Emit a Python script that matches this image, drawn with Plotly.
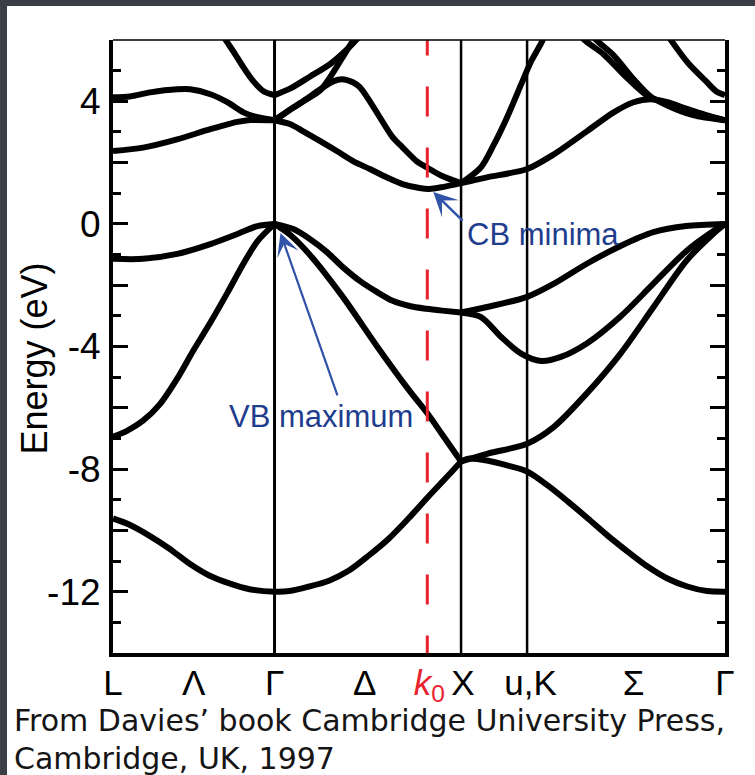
import plotly.graph_objects as go

# ---------------- data ----------------
# k-path positions (units of 2*pi/a): L, Gamma, X, U/K, Gamma
K_SYM = [0.0, 0.866, 1.866, 2.220, 3.281]
K0 = 1.685  # conduction-band minimum position

X_TICK_K = [0.0, 0.433, 0.866, 1.350, 1.696, 1.876, 2.239, 2.791, 3.281]
X_TICK_TEXT = ["L", "Λ", "Γ", "Δ",
               "<span style='color:#e8232e'><i>k</i><sub>0</sub></span>",
               "X", "u,K", "Σ", "Γ"]

Y_MAJOR = [-14, -12, -10, -8, -6, -4, -2, 0, 2, 4, 6]
Y_MAJOR_TEXT = ["", "-12", "", "-8", "", "-4", "", "0", "", "4", ""]
Y_MINOR = [-13, -11, -9, -7, -5, -3, -1, 1, 3, 5]

# conduction bands
cb1_k = [0, 0.091, 0.199, 0.344, 0.414, 0.522, 0.613, 0.699, 0.775, 0.866]
cb1_e = [4.13, 4.16, 4.29, 4.39, 4.39, 4.23, 3.97, 3.64, 3.48, 3.38]
cb2_k = [0, 0.161, 0.344, 0.522, 0.667, 0.737, 0.866]
cb2_e = [2.38, 2.49, 2.76, 3.09, 3.33, 3.39, 3.38]
cb3_k = [0.565, 0.602, 0.645, 0.699, 0.753, 0.807, 0.866]
cb3_e = [6.38, 6.02, 5.63, 5.11, 4.65, 4.33, 4.20]
cb4_k = [0.866, 0.951, 1.057, 1.163, 1.254, 1.307, 1.330]
cb4_e = [4.20, 4.42, 4.81, 5.21, 5.69, 6.02, 6.20]
cb5_k = [0.866, 0.935, 1.020, 1.111, 1.180, 1.228, 1.286, 1.323, 1.377, 1.430, 1.499, 1.552, 1.627, 1.680, 1.765, 1.866]
cb5_e = [3.38, 3.67, 4.00, 4.39, 4.65, 4.72, 4.62, 4.46, 4.00, 3.48, 2.83, 2.50, 2.05, 1.85, 1.56, 1.33]
cb6_k = [0.866, 0.935, 1.020, 1.111, 1.163, 1.217, 1.270, 1.291, 1.312]
cb6_e = [3.38, 3.67, 4.00, 4.36, 4.78, 5.30, 5.82, 6.02, 6.28]
cb7_k = [0.866, 0.951, 1.020, 1.111, 1.202, 1.287, 1.377, 1.467, 1.552, 1.643, 1.696, 1.765, 1.866]
cb7_e = [3.38, 3.25, 3.02, 2.70, 2.37, 2.05, 1.79, 1.52, 1.30, 1.17, 1.14, 1.20, 1.33]
cb8_k = [1.866, 1.973, 2.043, 2.113, 2.188, 2.241, 2.300, 2.321]
cb8_e = [1.33, 1.85, 2.60, 3.48, 4.55, 5.30, 5.95, 6.28]
cb9_k = [1.866, 2.005, 2.220, 2.364, 2.540, 2.684, 2.791, 2.881, 2.967, 3.073, 3.180, 3.281]
cb9_e = [1.33, 1.52, 1.79, 2.27, 3.02, 3.64, 3.97, 4.07, 3.98, 3.76, 3.55, 3.38]
cb10_k = [2.486, 2.524, 2.631, 2.753, 2.860, 2.967, 3.084, 3.281]
cb10_e = [6.34, 6.02, 5.53, 4.78, 4.20, 3.93, 3.67, 3.38]
cb11_k = [2.550, 2.588, 2.684, 2.791, 2.881, 2.977, 3.110, 3.281]
cb11_e = [6.34, 6.02, 5.50, 4.72, 4.16, 3.85, 3.55, 3.38]
cb12_k = [2.945, 2.988, 3.084, 3.180, 3.233, 3.281]
cb12_e = [6.41, 6.02, 5.24, 4.65, 4.33, 4.20]

# valence bands
vb1_k = [0, 0.161, 0.344, 0.522, 0.667, 0.775, 0.866]
vb1_e = [-1.14, -1.14, -0.98, -0.66, -0.33, -0.07, 0]
vb2_k = [0, 0.075, 0.161, 0.253, 0.344, 0.430, 0.522, 0.613, 0.699, 0.775, 0.866]
vb2_e = [-6.94, -6.75, -6.42, -5.87, -5.05, -4.14, -3.22, -2.25, -1.30, -0.56, 0]
vb3_k = [0.866, 0.967, 1.057, 1.147, 1.232, 1.323, 1.414, 1.499, 1.589, 1.680, 1.765, 1.866]
vb3_e = [0, -0.17, -0.50, -0.92, -1.41, -1.86, -2.22, -2.51, -2.68, -2.77, -2.83, -2.89]
vb4_k = [0.866, 0.951, 1.057, 1.232, 1.414, 1.589, 1.685, 1.765, 1.866]
vb4_e = [0, -0.36, -1.02, -2.38, -3.98, -5.44, -6.18, -6.87, -7.75]
vb5_k = [1.866, 2.005, 2.220, 2.364, 2.540, 2.721, 2.897, 3.073, 3.281]
vb5_e = [-2.89, -2.71, -2.38, -1.95, -1.30, -0.72, -0.27, -0.07, 0]
vb6_k = [1.866, 1.973, 2.081, 2.188, 2.295, 2.401, 2.540, 2.721, 2.897, 3.073, 3.217, 3.281]
vb6_e = [-2.89, -3.04, -3.69, -4.23, -4.47, -4.34, -3.90, -3.02, -1.95, -0.89, -0.24, 0]
vb7_k = [1.866, 2.005, 2.220, 2.364, 2.540, 2.721, 2.897, 3.073, 3.217, 3.281]
vb7_e = [-7.75, -7.50, -7.17, -6.62, -5.53, -4.23, -2.72, -1.21, -0.33, 0]
vb8_k = [1.866, 1.904, 2.011, 2.118, 2.220, 2.332, 2.439, 2.546, 2.652, 2.759, 2.866, 2.972, 3.079, 3.185, 3.281]
vb8_e = [-7.75, -7.66, -7.73, -7.89, -8.08, -8.54, -9.06, -9.61, -10.17, -10.69, -11.18, -11.57, -11.83, -11.98, -12.0]
vb9_k = [0, 0.086, 0.194, 0.301, 0.409, 0.516, 0.624, 0.732, 0.866, 0.946, 1.052, 1.158, 1.265, 1.371, 1.478, 1.584, 1.690, 1.797, 1.866]
vb9_e = [-9.61, -9.81, -10.17, -10.59, -11.08, -11.47, -11.73, -11.92, -12.0, -11.98, -11.83, -11.64, -11.31, -10.82, -10.27, -9.61, -8.90, -8.21, -7.75]

BANDS = [
    (cb1_k, cb1_e), (cb2_k, cb2_e), (cb3_k, cb3_e), (cb4_k, cb4_e),
    (cb5_k, cb5_e), (cb6_k, cb6_e), (cb7_k, cb7_e), (cb8_k, cb8_e),
    (cb9_k, cb9_e), (cb10_k, cb10_e), (cb11_k, cb11_e), (cb12_k, cb12_e),
    (vb1_k, vb1_e), (vb2_k, vb2_e), (vb3_k, vb3_e), (vb4_k, vb4_e),
    (vb5_k, vb5_e), (vb6_k, vb6_e), (vb7_k, vb7_e), (vb8_k, vb8_e),
    (vb9_k, vb9_e),
]

# annotation anchors (k, E)
CB_TIP = (1.717, 1.04)
CB_TAIL = (1.882, 0.06)
CB_TEXT = (2.305, -0.36)
VB_TIP = (0.898, -0.30)
VB_TAIL = (1.206, -5.64)
VB_TEXT = (1.116, -6.29)

# ---------------- figure ----------------
ARIAL = "Liberation Sans, Arial, sans-serif"
BLUE_TXT = "#1f3d8d"
BLUE_ARR = "#3052a8"
RED = "#e8232e"

fig = go.Figure()
for kk, ee in BANDS:
    fig.add_trace(go.Scatter(x=kk, y=ee, mode="lines",
                             line=dict(color="black", width=6, shape="spline", smoothing=0.8),
                             hoverinfo="skip", showlegend=False))

shapes = []
# symmetry lines
for kx, w in [(K_SYM[1], 3), (K_SYM[2], 2.5), (K_SYM[3], 2.5)]:
    shapes.append(dict(type="line", xref="x", yref="paper", x0=kx, x1=kx, y0=0, y1=1,
                       line=dict(color="black", width=w), layer="above"))
# k0 dashed line
shapes.append(dict(type="line", xref="x", yref="y", x0=K0, x1=K0, y0=6.47, y1=-14.6,
                   line=dict(color=RED, width=3, dash="30px,31px"), layer="above"))
# thin top frame line
shapes.append(dict(type="line", xref="paper", yref="paper", x0=0, x1=1, y0=1, y1=1,
                   line=dict(color="black", width=1.5)))
# screenshot border (dark) top and left
shapes.append(dict(type="rect", xref="paper", yref="paper", x0=-0.1846, x1=-0.1732, y0=-0.2, y1=1.066,
                   fillcolor="#3b3e44", line=dict(width=0), layer="below"))
shapes.append(dict(type="rect", xref="paper", yref="paper", x0=-0.1846, x1=1.05, y0=1.0555, y1=1.066,
                   fillcolor="#3b3e44", line=dict(width=0), layer="below"))

annotations = [
    dict(x=CB_TIP[0], y=CB_TIP[1], ax=CB_TAIL[0], ay=CB_TAIL[1], xref="x", yref="y",
         axref="x", ayref="y", text="", showarrow=True, arrowhead=3, arrowsize=1.6,
         arrowwidth=2.5, arrowcolor=BLUE_ARR, standoff=0),
    dict(x=VB_TIP[0], y=VB_TIP[1], ax=VB_TAIL[0], ay=VB_TAIL[1], xref="x", yref="y",
         axref="x", ayref="y", text="", showarrow=True, arrowhead=3, arrowsize=1.7,
         arrowwidth=2.2, arrowcolor=BLUE_ARR, standoff=0),
    dict(x=CB_TEXT[0], y=CB_TEXT[1], xref="x", yref="y", text="CB minima", showarrow=False,
         font=dict(family=ARIAL, size=31, color=BLUE_TXT), xanchor="center", yanchor="middle"),
    dict(x=VB_TEXT[0], y=VB_TEXT[1], xref="x", yref="y", text="VB maximum", showarrow=False,
         font=dict(family=ARIAL, size=31, color=BLUE_TXT), xanchor="center", yanchor="middle"),
    dict(x=-0.1275, y=0.4804, xref="paper", yref="paper", text="Energy (eV)", showarrow=False,
         textangle=-90, font=dict(family=ARIAL, size=36, color="black"),
         xanchor="center", yanchor="middle"),
    dict(x=-0.165, y=-0.1093, xref="paper", yref="paper",
         text="From Davies’ book Cambridge University Press,", showarrow=False,
         font=dict(family="DejaVu Sans", size=30, color="#151515"), xanchor="left", yanchor="middle"),
    dict(x=-0.165, y=-0.1713, xref="paper", yref="paper",
         text="Cambridge, UK, 1997", showarrow=False,
         font=dict(family="DejaVu Sans", size=30, color="#151515"), xanchor="left", yanchor="middle"),
]

fig.update_layout(
    template="none",
    width=755, height=775,
    margin=dict(l=113, r=30, t=40, b=122, autoexpand=False),
    paper_bgcolor="white", plot_bgcolor="white",
    showlegend=False,
    shapes=shapes, annotations=annotations,
    xaxis=dict(range=[K_SYM[0], K_SYM[-1]], showgrid=False, zeroline=False,
               showline=True, linewidth=4, linecolor="black", mirror=False,
               tickmode="array", tickvals=X_TICK_K, ticktext=X_TICK_TEXT, ticks="",
               tickfont=dict(family=ARIAL, size=35, color="black"),
               ticklabelstandoff=-4, automargin=False),
    yaxis=dict(range=[-14, 6], showgrid=False, zeroline=False,
               showline=True, linewidth=4, linecolor="black", mirror="ticks",
               tickmode="array", tickvals=Y_MAJOR, ticktext=Y_MAJOR_TEXT,
               ticks="inside", ticklen=15, tickwidth=3, tickcolor="black",
               minor=dict(tickmode="array", tickvals=Y_MINOR, ticks="inside",
                          ticklen=8, tickwidth=3, tickcolor="black", showgrid=False),
               tickfont=dict(family=ARIAL, size=37, color="black"),
               ticklabelstandoff=1, automargin=False),
)

fig.write_html("out.html", config={"displayModeBar": False},
               post_script="document.body.style.margin='0px';")
